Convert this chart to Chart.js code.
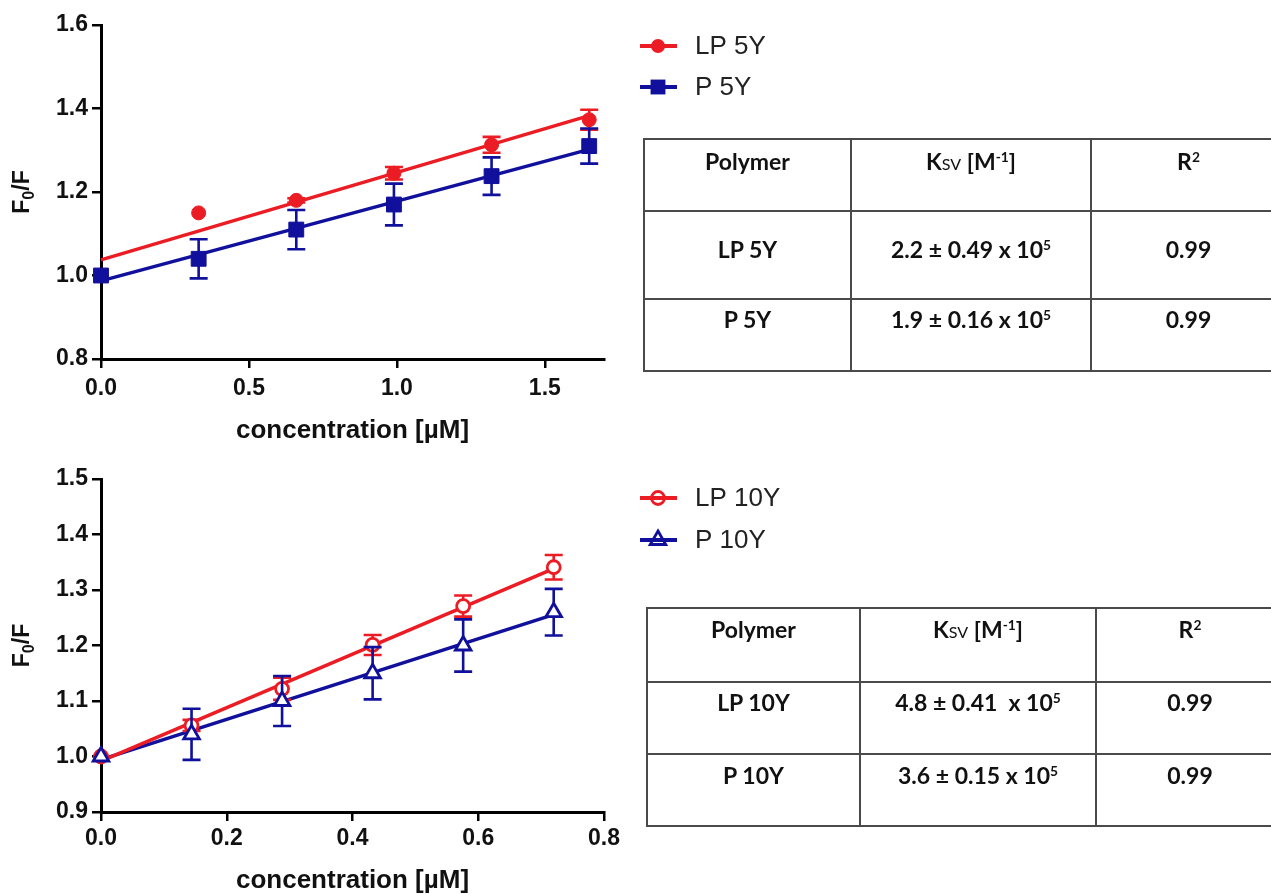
<!DOCTYPE html>
<html>
<head>
<meta charset="utf-8">
<title>Stern-Volmer quenching</title>
<script src="https://cdn.jsdelivr.net/npm/chart.js@4.4.1/dist/chart.umd.min.js"></script>
<style>
  body { margin: 0; width: 1271px; height: 894px; background: #fff; position: relative; overflow: hidden; }
  canvas { position: absolute; left: 0; }
  #chart5 { top: 0; }
  #chart10 { top: 455px; }
  table.ksv {
    position: absolute;
    border-collapse: collapse;
    table-layout: fixed;
    font-family: Lato, "Open Sans", sans-serif;
    font-weight: 700;
    font-size: 23px;
    color: #111;
  }
  table.ksv td {
    border: 2px solid #4a4a4a;
    text-align: center;
    vertical-align: top;
    padding: 0;
    box-sizing: border-box;
  }
  table.ksv td:last-child { border-right: none; }
  table.ksv sup { font-size: 0.6em; vertical-align: 0.6em; line-height: 0; }
  table.ksv .sv { font-size: 0.7em; font-weight: 400; }
</style>
</head>
<body>
<canvas id="chart5" width="800" height="450"></canvas>
<canvas id="chart10" width="800" height="445"></canvas>

<table class="ksv" style="left:643px; top:138px; width:641px;">
  <colgroup><col style="width:207px"><col style="width:240px"><col style="width:194px"></colgroup>
  <tr style="height:72px"><td style="padding-top:7px">Polymer</td><td style="padding-top:7px">K<span class="sv">SV</span> [M<sup>-1</sup>]</td><td style="padding-top:7px">R<sup>2</sup></td></tr>
  <tr style="height:88px"><td style="padding-top:23px">LP 5Y</td><td style="padding-top:23px">2.2 ± 0.49 x 10<sup>5</sup></td><td style="padding-top:23px">0.99</td></tr>
  <tr style="height:72px"><td style="padding-top:5px">P 5Y</td><td style="padding-top:5px">1.9 ± 0.16 x 10<sup>5</sup></td><td style="padding-top:5px">0.99</td></tr>
</table>

<table class="ksv" style="left:646px; top:607px; width:636px;">
  <colgroup><col style="width:213px"><col style="width:236px"><col style="width:187px"></colgroup>
  <tr style="height:74px"><td style="padding-top:6px">Polymer</td><td style="padding-top:6px">K<span class="sv">SV</span> [M<sup>-1</sup>]</td><td style="padding-top:6px">R<sup>2</sup></td></tr>
  <tr style="height:72px"><td style="padding-top:5px">LP 10Y</td><td style="padding-top:5px">4.8 ± 0.41 &nbsp;x 10<sup>5</sup></td><td style="padding-top:5px">0.99</td></tr>
  <tr style="height:72px"><td style="padding-top:6px">P 10Y</td><td style="padding-top:6px">3.6 ± 0.15 x 10<sup>5</sup></td><td style="padding-top:6px">0.99</td></tr>
</table>

<script>
// quencher concentration (µM) and F0/F readings, mean ± SD
const conc5 = [0, 0.33, 0.66, 0.99, 1.32, 1.65];
const lp5 = [1.0, 1.15, 1.18, 1.245, 1.313, 1.373];
const lp5Err = [0, 0, 0.005, 0.015, 0.019, 0.024];
const p5 = [1.0, 1.04, 1.11, 1.17, 1.238, 1.31];
const p5Err = [0, 0.047, 0.047, 0.05, 0.045, 0.042];

const conc10 = [0, 0.144, 0.288, 0.432, 0.576, 0.72];
const lp10 = [1.0, 1.056, 1.122, 1.201, 1.271, 1.341];
const lp10Err = [0, 0.01, 0.02, 0.018, 0.019, 0.022];
const p10 = [1.0, 1.04, 1.1, 1.15, 1.2, 1.26];
const p10Err = [0, 0.046, 0.045, 0.047, 0.047, 0.042];

const xTicks5 = [0, 0.5, 1.0, 1.5];
const yTicks5 = [0.8, 1.0, 1.2, 1.4, 1.6];
const xTicks10 = [0, 0.2, 0.4, 0.6, 0.8];
const yTicks10 = [0.9, 1.0, 1.1, 1.2, 1.3, 1.4, 1.5];

const RED = "#ec1c24";
const BLUE = "#10109c";
const FONT = '"Liberation Sans", Arial, sans-serif';

// least squares line through the points
function linearFit(xs, ys) {
  const n = xs.length;
  const mx = xs.reduce((a, b) => a + b, 0) / n;
  const my = ys.reduce((a, b) => a + b, 0) / n;
  let sxy = 0, sxx = 0;
  xs.forEach((x, i) => {
    sxy += (x - mx) * (ys[i] - my);
    sxx += (x - mx) * (x - mx);
  });
  const slope = sxy / sxx;
  return { slope, intercept: my - slope * mx };
}

function fitDataset(xs, ys, color) {
  const f = linearFit(xs, ys);
  const x1 = xs[xs.length - 1];
  return {
    type: "line",
    data: [{ x: 0, y: f.intercept }, { x: x1, y: f.intercept + f.slope * x1 }],
    borderColor: color,
    borderWidth: 3.5,
    pointRadius: 0,
    order: 5,
    clip: false,
  };
}

function pointsDataset(label, xs, ys, errs, color, style, open, radius, order) {
  return {
    type: "scatter",
    keyLabel: label,
    data: xs.map((x, i) => ({ x, y: ys[i] })),
    errors: errs,
    borderColor: color,
    backgroundColor: open ? "#fff" : color,
    pointStyle: style,
    pointRadius: radius,
    pointBorderWidth: open ? 2.8 : 1,
    open,
    order,
    clip: false,
  };
}

// vertical error bars with caps, drawn just before each series' markers
const errorBars = {
  id: "errorBars",
  beforeDatasetDraw(chart, args) {
    const ds = chart.data.datasets[args.index];
    if (!ds.errors) return;
    const { ctx, scales } = chart;
    ctx.save();
    ctx.strokeStyle = ds.borderColor;
    ctx.lineWidth = 2.6;
    ds.data.forEach((p, i) => {
      const e = ds.errors[i];
      if (!e) return;
      const px = scales.x.getPixelForValue(p.x);
      const top = scales.y.getPixelForValue(p.y + e);
      const bot = scales.y.getPixelForValue(p.y - e);
      ctx.beginPath();
      ctx.moveTo(px, top);
      ctx.lineTo(px, bot);
      ctx.moveTo(px - 9, top);
      ctx.lineTo(px + 9, top);
      ctx.moveTo(px - 9, bot);
      ctx.lineTo(px + 9, bot);
      ctx.stroke();
    });
    ctx.restore();
  },
};

function drawMarker(ctx, ds, x, y) {
  const r = ds.pointRadius;
  ctx.beginPath();
  if (ds.pointStyle === "rect") {
    const s = r * Math.SQRT1_2;
    ctx.rect(x - s, y - s, 2 * s, 2 * s);
  } else if (ds.pointStyle === "triangle") {
    for (let k = 0; k < 3; k++) {
      const a = (k * 2 * Math.PI) / 3;
      ctx[k ? "lineTo" : "moveTo"](x + Math.sin(a) * r, y - Math.cos(a) * r);
    }
    ctx.closePath();
  } else {
    ctx.arc(x, y, r, 0, Math.PI * 2);
  }
  if (ds.open) {
    ctx.lineWidth = ds.pointBorderWidth;
    ctx.strokeStyle = ds.borderColor;
    ctx.stroke();
  } else {
    ctx.fillStyle = ds.borderColor;
    ctx.fill();
  }
}

// legend beside the plot: line + marker + name
const seriesKey = {
  id: "seriesKey",
  afterDraw(chart, args, opts) {
    const { ctx } = chart;
    chart.data.datasets
      .filter((d) => d.keyLabel)
      .forEach((d, i) => {
        const y = opts.rows[i];
        ctx.save();
        ctx.strokeStyle = d.borderColor;
        ctx.lineWidth = 4;
        ctx.beginPath();
        ctx.moveTo(opts.x, y);
        ctx.lineTo(opts.x + 37, y);
        ctx.stroke();
        drawMarker(ctx, d, opts.x + 18, y);
        ctx.fillStyle = "#222";
        ctx.font = "26px " + FONT;
        ctx.textBaseline = "middle";
        ctx.fillText(d.keyLabel, opts.x + 55, y + 1);
        ctx.restore();
      });
  },
};

// rotated "F0/F" with subscript
const yTitle = {
  id: "yTitle",
  afterDraw(chart, args, opts) {
    const { ctx, chartArea } = chart;
    const cy = (chartArea.top + chartArea.bottom) / 2;
    const big = "bold 23px " + FONT;
    const small = "bold 16px " + FONT;
    ctx.save();
    ctx.translate(opts.x, cy);
    ctx.rotate(-Math.PI / 2);
    ctx.fillStyle = "#111";
    ctx.font = big;
    const wF = ctx.measureText("F").width;
    const wRest = ctx.measureText("/F").width;
    ctx.font = small;
    const w0 = ctx.measureText("0").width;
    let x = -(wF + w0 + wRest) / 2;
    ctx.font = big;
    ctx.fillText("F", x, 8);
    x += wF;
    ctx.font = small;
    ctx.fillText("0", x, 13);
    x += w0;
    ctx.font = big;
    ctx.fillText("/F", x, 8);
    ctx.restore();
  },
};

function makeChart(id, datasets, ax) {
  const tickFont = { family: FONT, weight: "bold", size: 23 };
  return new Chart(document.getElementById(id), {
    type: "scatter",
    data: { datasets },
    plugins: [errorBars, seriesKey, yTitle],
    options: {
      responsive: false,
      animation: false,
      devicePixelRatio: 1,
      layout: { padding: { top: ax.top, right: 800 - 604, left: 0, bottom: 0 } },
      plugins: {
        legend: { display: false },
        tooltip: { enabled: false },
        seriesKey: { x: 640, rows: ax.keyRows },
        yTitle: { x: 21 },
      },
      scales: {
        x: {
          type: "linear",
          min: ax.xMin,
          max: ax.xMax,
          afterBuildTicks: (s) => { s.ticks = ax.xTicks.map((v) => ({ value: v })); },
          afterFit: (s) => { s.height = ax.xHeight; },
          border: { color: "#000", width: 3 },
          grid: { drawOnChartArea: false, color: "#000", lineWidth: 2.5, tickLength: 9 },
          ticks: { color: "#111", font: tickFont, padding: ax.xPad, maxRotation: 0, callback: (v) => v.toFixed(1) },
          title: {
            display: true,
            text: "concentration [µM]",
            color: "#111",
            font: { family: FONT, weight: "bold", size: 26 },
            padding: { top: 0, bottom: 4 },
          },
        },
        y: {
          type: "linear",
          min: ax.yMin,
          max: ax.yMax,
          afterBuildTicks: (s) => { s.ticks = ax.yTicks.map((v) => ({ value: v })); },
          afterFit: (s) => { s.width = 101; },
          border: { color: "#000", width: 3 },
          grid: { drawOnChartArea: false, color: "#000", lineWidth: 2.5, tickLength: 9 },
          ticks: { color: "#111", font: tickFont, padding: 4, callback: (v) => v.toFixed(1) },
        },
      },
    },
  });
}

makeChart(
  "chart5",
  [
    pointsDataset("LP 5Y", conc5, lp5, lp5Err, RED, "circle", false, 7, 2),
    pointsDataset("P 5Y", conc5, p5, p5Err, BLUE, "rect", false, 10.5, 1),
    fitDataset(conc5, lp5, RED),
    fitDataset(conc5, p5, BLUE),
  ],
  {
    xMin: 0, xMax: 1.7, yMin: 0.8, yMax: 1.6,
    xTicks: xTicks5, yTicks: yTicks5,
    top: 25, xHeight: 450 - 359, xPad: 7,
    keyRows: [46, 87],
  }
);

makeChart(
  "chart10",
  [
    pointsDataset("LP 10Y", conc10, lp10, lp10Err, RED, "circle", true, 6.5, 2),
    pointsDataset("P 10Y", conc10, p10, p10Err, BLUE, "triangle", true, 9, 1),
    fitDataset(conc10, lp10, RED),
    fitDataset(conc10, p10, BLUE),
  ],
  {
    xMin: 0, xMax: 0.8, yMin: 0.9, yMax: 1.5,
    xTicks: xTicks10, yTicks: yTicks10,
    top: 24, xHeight: 445 - 357, xPad: 4,
    keyRows: [498 - 455, 540 - 455],
  }
);
</script>
</body>
</html>
